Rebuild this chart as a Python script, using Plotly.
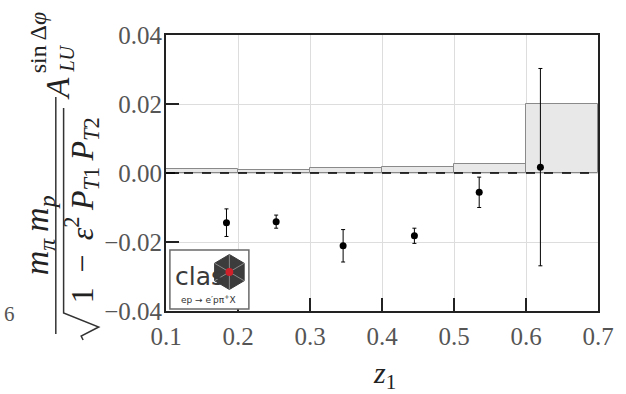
import math
import plotly.graph_objects as go

# ---- data ----
z_points = [0.184, 0.253, 0.346, 0.445, 0.535, 0.620]
asym = [-0.0144, -0.0141, -0.0211, -0.0182, -0.0056, 0.0017]
asym_err = [0.0040, 0.0019, 0.0047, 0.0022, 0.0044, 0.0286]
bin_centers = [0.15, 0.25, 0.35, 0.45, 0.55, 0.65]
sys_err = [0.0011, 0.0009, 0.0014, 0.0017, 0.0027, 0.0200]
x_ticks = [0.1, 0.2, 0.3, 0.4, 0.5, 0.6, 0.7]
x_ticktext = ["0.1", "0.2", "0.3", "0.4", "0.5", "0.6", "0.7"]
y_ticks = [-0.04, -0.02, 0.0, 0.02, 0.04]
y_ticktext = ["\u22120.04", "\u22120.02", "0.00", "0.02", "0.04"]

W, H = 626, 394
L, R, T, B = 166, 17, 35, 83
PW, PH = W - L - R, H - T - B
SERIF = "Liberation Serif"
TS = "\u2009"  # thin space


def P(px, py):
    return (px - L) / PW, (H - B - py) / PH


fig = go.Figure()
fig.add_trace(go.Bar(
    x=bin_centers, y=sys_err, width=0.1,
    marker=dict(color="#e8e8e8", line=dict(color="#8a8a8a", width=1)),
    showlegend=False, hoverinfo="skip"))
fig.add_trace(go.Scatter(
    x=z_points, y=asym, mode="markers",
    marker=dict(color="black", size=7),
    error_y=dict(type="data", array=asym_err, visible=True,
                 color="black", thickness=1, width=2),
    showlegend=False))

shapes = []
shapes.append(dict(type="line", xref="paper", yref="y", x0=0, x1=1, y0=0, y1=0,
                   line=dict(color="black", width=1.5, dash="dash"), layer="above"))

# CLAS logo box
bx0, by0 = P(170, 309)
bx1, by1 = P(251, 250)
shapes.append(dict(type="rect", xref="paper", yref="paper", x0=bx0, y0=by0, x1=bx1, y1=by1,
                   fillcolor="white", line=dict(color="#6a6a6a", width=1.5), layer="above"))
cx, cy, rr = 231, 272, 17.5
verts = []
for k in range(6):
    ang = math.radians(90 + 60 * k)
    verts.append((cx + rr * math.cos(ang), cy - rr * math.sin(ang)))
path = "M " + " L ".join("%f,%f" % P(vx, vy) for vx, vy in verts) + " Z"
shapes.append(dict(type="path", xref="paper", yref="paper", path=path,
                   fillcolor="#3c3c3c", line=dict(color="#3c3c3c", width=1), layer="above"))
for vx, vy in verts:
    a0 = P(cx, cy)
    a1 = P(vx, vy)
    shapes.append(dict(type="line", xref="paper", yref="paper", x0=a0[0], y0=a0[1], x1=a1[0], y1=a1[1],
                       line=dict(color="#8a8a8a", width=1), layer="above"))
rx0, ry0 = P(cx - 4, cy + 4)
rx1, ry1 = P(cx + 4, cy - 4)
shapes.append(dict(type="circle", xref="paper", yref="paper", x0=rx0, y0=ry0, x1=rx1, y1=ry1,
                   fillcolor="#d0202a", line=dict(color="#d0202a", width=0), layer="above"))

# fraction bar of the axis title
f0 = P(53, 97)
f1 = P(53, 334)
shapes.append(dict(type="line", xref="paper", yref="paper", x0=f0[0], y0=f0[1], x1=f1[0], y1=f1[1],
                   line=dict(color="#333", width=1.5)))
# radical sign with overline
rad = [(81, 340), (79, 336), (97, 327), (61, 313), (61, 108)]
rpath = "M " + " L ".join("%f,%f" % P(a, b) for a, b in rad)
shapes.append(dict(type="path", xref="paper", yref="paper", path=rpath,
                   line=dict(color="#333", width=1.5)))

annotations = []


def ann(text, px, py, size, angle=-90, color="#222", family=SERIF, xanchor="center"):
    ax, ay = P(px, py)
    annotations.append(dict(text=text, x=ax, y=ay, xref="paper", yref="paper",
                            showarrow=False, textangle=angle, xanchor=xanchor, yanchor="middle",
                            font=dict(family=family, size=size, color=color)))


ann("sin" + TS + "\u0394<i>\u03c6</i>", 35, 42, 24)
ann("<i>A</i>", 55, 88, 33)
ann("<i>LU</i>", 64, 59, 20)
ann("<i>m</i><sub><i>\u03c0</i></sub>" + TS + "<i>m</i><sub><i>p</i></sub>", 36, 235, 34)
ann("1" + TS + " \u2212 " + TS + "<i>\u03b5</i><sup>2</sup>" + TS + "<i>P</i><sub><i>T</i>1</sub>"
    + TS + "<i>P</i><sub><i>T</i>2</sub>", 80, 210, 32)
ann("<i>z</i><sub>1</sub>", 390, 375, 30, angle=0)
ann("6", -2, 314, 21, angle=0, color="#555", xanchor="left")
# logo texts
ann("clas", 200, 276, 25, angle=0, color="#3a3a3a", family="DejaVu Sans")
ann("ep \u2192 e\u2032p\u03c0<sup>+</sup>X", 210, 299, 9, angle=0, color="#333", family="DejaVu Sans")

axis_common = dict(
    showline=True, linewidth=2, linecolor="#222", mirror=True,
    ticks="inside", ticklen=13, tickwidth=2, tickcolor="#222",
    showgrid=True, gridcolor="#dddddd", gridwidth=1, zeroline=False,
    tickfont=dict(family=SERIF, size=25, color="#555"),
)

fig.update_layout(
    width=W, height=H,
    margin=dict(l=L, r=R, t=T, b=B),
    plot_bgcolor="white", paper_bgcolor="white",
    font=dict(family=SERIF, size=25, color="#555"),
    bargap=0,
    xaxis=dict(range=[0.1, 0.7], tickvals=x_ticks, ticktext=x_ticktext,
               ticklabelstandoff=2, **axis_common),
    yaxis=dict(range=[-0.04, 0.04], tickvals=y_ticks, ticktext=y_ticktext,
               ticklabelstandoff=-3, **axis_common),
    shapes=shapes, annotations=annotations,
    showlegend=False,
)

fig.write_html("out.html")
